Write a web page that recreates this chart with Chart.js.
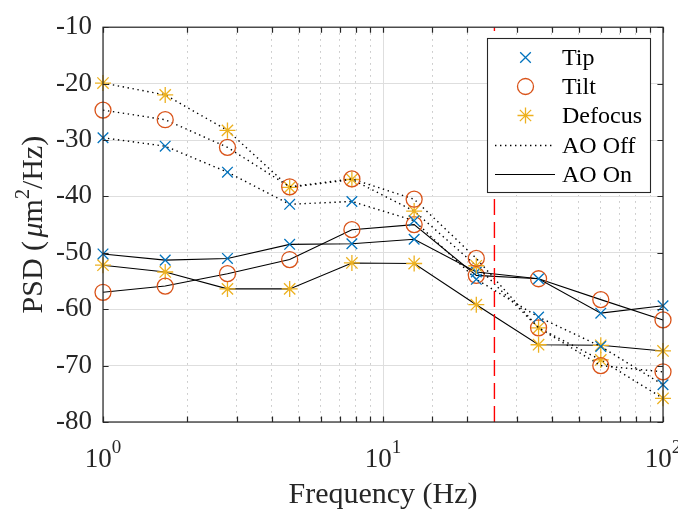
<!DOCTYPE html>
<html><head><meta charset="utf-8">
<script src="https://cdn.jsdelivr.net/npm/chart.js@4/dist/chart.umd.min.js"></script>
<style>html,body{margin:0;padding:0;background:#fff;overflow:hidden}#wrap{width:678px;height:512px;position:relative}</style>
</head><body><div id="wrap"><canvas id="c" width="678" height="512"></canvas></div>
<script>
// ---- data ----
const freqs = [1, 1.668, 2.783, 4.642, 7.743, 12.92, 21.54, 35.94, 59.95, 100];
const tipOff     = [-29.6, -31.1, -35.7, -41.4, -40.9, -44.3, -54.7, -61.4, -66.6, -73.4];
const tiltOff    = [-24.7, -26.4, -31.3, -38.3, -36.9, -40.5, -51.0, -63.3, -70.0, -71.1];
const defocusOff = [-19.9, -22.0, -28.3, -38.4, -37.0, -42.6, -52.3, -63.3, -69.0, -75.8];
const tipOn      = [-50.2, -51.3, -51.0, -48.5, -48.4, -47.6, -53.4, -54.6, -60.7, -59.4];
const tiltOn     = [-57.0, -55.9, -53.7, -51.2, -45.9, -45.0, -54.0, -54.6, -58.3, -61.9];
const defocusOn  = [-52.2, -53.4, -56.4, -56.4, -51.8, -51.9, -59.2, -66.3, -66.4, -67.4];
const cutoffHz = 25;
const yRange = [-80, -10];
const xRange = [1, 100];
const xMajorExponents = [0, 1, 2];
const seriesNames = ['Tip', 'Tilt', 'Defocus'];
const modeNames = ['AO Off', 'AO On'];
const xTitle = 'Frequency (Hz)';

// ---- styles ----
const COLORS = {Tip: '#0072BD', Tilt: '#D95319', Defocus: '#EDB120'};
const STYLES = {Tip: 'crossRot', Tilt: 'circle', Defocus: 'star'};
const RADII = {Tip: 7.5, Tilt: 8, Defocus: 8};
const SERIF = '"Liberation Serif", "Times New Roman", serif';
const AX = '#262626';

function pts(arr) { return freqs.map((f, i) => ({x: f, y: arr[i]})); }
function ds(name, arr, off) {
  return {
    label: name + (off ? ' off' : ' on'),
    data: pts(arr),
    borderColor: '#000',
    borderWidth: off ? 1.4 : 1.1,
    borderDash: off ? [1.4, 3.6] : [],
    pointStyle: STYLES[name],
    pointRadius: RADII[name],
    pointBorderColor: COLORS[name],
    pointBackgroundColor: 'rgba(0,0,0,0)',
    pointBorderWidth: 1.3,
    tension: 0, fill: false, clip: false
  };
}

const datasets = [
  {label: 'cutoff', data: [{x: cutoffHz, y: yRange[0]}, {x: cutoffHz, y: yRange[1]}],
   borderColor: '#FF0000', borderWidth: 1.4, borderDash: [16, 7], pointRadius: 0, fill: false},
  ds('Tip', tipOff, true), ds('Tilt', tiltOff, true), ds('Defocus', defocusOff, true),
  ds('Tip', tipOn, false), ds('Tilt', tiltOn, false), ds('Defocus', defocusOn, false)
];

function isMajor(v) { const l = Math.log10(v); return Math.abs(l - Math.round(l)) < 1e-6; }

const decor = {
  id: 'decor',
  beforeDraw(chart) {
    const c = chart.ctx; c.save(); c.fillStyle = '#fff'; c.fillRect(0, 0, chart.width, chart.height); c.restore();
  },
  afterDatasetsDraw(chart) {
    const c = chart.ctx, a = chart.chartArea, xs = chart.scales.x, ys = chart.scales.y;
    c.save();
    // box
    c.strokeStyle = AX; c.lineWidth = 1.2;
    c.strokeRect(a.left, a.top, a.right - a.left, a.bottom - a.top);
    // inward ticks
    c.beginPath();
    const tl = 5.6;
    xs.ticks.forEach(t => {
      const px = Math.round(xs.getPixelForValue(t.value)) + 0.5;
      c.moveTo(px, a.bottom); c.lineTo(px, a.bottom - tl);
      c.moveTo(px, a.top); c.lineTo(px, a.top + tl);
    });
    ys.ticks.forEach(t => {
      const py = Math.round(ys.getPixelForValue(t.value)) + 0.5;
      c.moveTo(a.left, py); c.lineTo(a.left + tl, py);
      c.moveTo(a.right, py); c.lineTo(a.right - tl, py);
    });
    c.stroke();

    // x tick labels 10^n
    c.fillStyle = AX; c.textBaseline = 'alphabetic'; c.textAlign = 'left';
    const baseFont = '27px ' + SERIF, supFont = '19px ' + SERIF;
    xMajorExponents.forEach(e => {
      const px = xs.getPixelForValue(Math.pow(10, e));
      c.font = baseFont; const w1 = c.measureText('10').width;
      c.font = supFont; const w2 = c.measureText(String(e)).width;
      const x0 = px - (w1 + w2) / 2;
      c.font = baseFont; c.fillText('10', x0, 467);
      c.font = supFont; c.fillText(String(e), x0 + w1, 453);
    });

    // x title
    c.font = '30px ' + SERIF; c.textAlign = 'center';
    c.fillText(xTitle, (a.left + a.right) / 2, 503);

    // y title with italic mu and superscript 2
    const parts = [
      {t: 'PSD (', f: '30px ' + SERIF, dy: 0},
      {t: ' ', f: '14px ' + SERIF, dy: 0},
      {t: '\u03BC', f: 'italic 30px ' + SERIF, dy: 0},
      {t: 'm', f: '30px ' + SERIF, dy: 0},
      {t: '2', f: '20px ' + SERIF, dy: -13},
      {t: '/Hz)', f: '30px ' + SERIF, dy: 0}
    ];
    let total = 0;
    parts.forEach(p => { c.font = p.f; p.w = c.measureText(p.t).width; total += p.w; });
    c.translate(42, (a.top + a.bottom) / 2 + 0);
    c.rotate(-Math.PI / 2);
    c.textAlign = 'left';
    let u = -total / 2;
    parts.forEach(p => { c.font = p.f; c.fillText(p.t, u, p.dy); u += p.w; });
    c.restore();

    // legend
    c.save();
    const L = {x: 487, y: 38, w: 163, h: 154};
    c.fillStyle = '#fff'; c.fillRect(L.x, L.y, L.w, L.h);
    c.strokeStyle = AX; c.lineWidth = 1.1; c.strokeRect(L.x + 0.5, L.y + 0.5, L.w, L.h);
    const baselines = [65, 94, 123, 153, 182];
    c.textAlign = 'left'; c.textBaseline = 'alphabetic';
    seriesNames.forEach((n, i) => {
      c.strokeStyle = COLORS[n]; c.fillStyle = 'rgba(0,0,0,0)'; c.lineWidth = 1.3; c.setLineDash([]);
      Chart.helpers.drawPoint(c, {pointStyle: STYLES[n], radius: RADII[n], borderWidth: 1.3},
        525.5, baselines[i] - 7.5);
      c.fillStyle = '#000'; c.font = '24px ' + SERIF;
      c.fillText(n, 562, baselines[i]);
    });
    modeNames.forEach((n, j) => {
      const by = baselines[3 + j] - 8;
      c.strokeStyle = '#000';
      c.lineWidth = j === 0 ? 1.4 : 1.1;
      c.setLineDash(j === 0 ? [1.4, 3.6] : []);
      c.beginPath(); c.moveTo(495, by + 0.5); c.lineTo(555, by + 0.5); c.stroke();
      c.setLineDash([]);
      c.fillStyle = '#000'; c.font = '24px ' + SERIF;
      c.fillText(n, 562, baselines[3 + j]);
    });
    c.restore();
  }
};

new Chart(document.getElementById('c'), {
  type: 'line',
  data: {datasets},
  options: {
    responsive: false, animation: false, devicePixelRatio: 1,
    layout: {padding: {left: 0, top: 14, right: 15, bottom: 0}},
    plugins: {legend: {display: false}, tooltip: {enabled: false}},
    scales: {
      x: {
        type: 'logarithmic', min: xRange[0], max: xRange[1],
        afterFit: s => { s.height = 90; },
        ticks: {display: false},
        grid: {
          drawTicks: false, lineWidth: 1,
          color: ctx => (ctx.tick && isMajor(ctx.tick.value)) ? '#dedede' : '#c2c2c2'
        },
        border: {display: false, dash: ctx => (ctx.tick && !isMajor(ctx.tick.value)) ? [1.5, 4.5] : []}
      },
      y: {
        type: 'linear', min: yRange[0], max: yRange[1],
        afterFit: s => { s.width = 103; },
        ticks: {stepSize: 10, padding: 11, color: AX, font: {family: SERIF, size: 27}},
        grid: {drawTicks: false, color: '#dedede', lineWidth: 1},
        border: {display: false}
      }
    }
  },
  plugins: [decor]
});
</script>
</body></html>
